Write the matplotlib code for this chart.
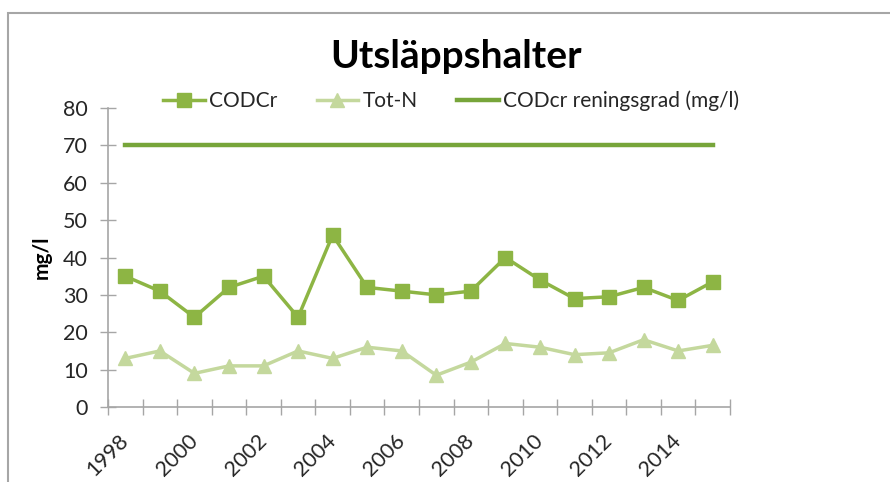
import matplotlib
matplotlib.use("Agg")
import matplotlib.pyplot as plt
from matplotlib.patches import Rectangle
from matplotlib.ticker import FixedLocator, NullFormatter, FixedFormatter
import numpy as np

years = ["1998", "1999", "2000", "2001", "2002", "2003", "2004", "2005", "2006",
         "2007", "2008", "2009", "2010", "2011", "2012", "2013", "2014", "2015"]
codcr = [35, 31, 24, 32, 35, 24, 46, 32, 31, 30, 31, 40, 34, 29, 29.5, 32, 28.5, 33.5]
totn = [13, 15, 9, 11, 11, 15, 13, 16, 15, 8.5, 12, 17, 16, 14, 14.5, 18, 15, 16.5]
reningsgrad = [70] * 18

title = "Utsläppshalter"
ylabel = "mg/l"
series_names = ["CODCr", "Tot-N", "CODcr reningsgrad (mg/l)"]

plt.rcParams['font.family'] = ['Lato', 'DejaVu Sans']

fig = plt.figure(figsize=(8.9, 4.82), dpi=100)
W, H = 890, 482
ax = fig.add_axes([108 / W, 1 - 407 / H, (730 - 108) / W, (407 - 108) / H])

# outer chart border
fig.patches.append(Rectangle((8 / W, -0.1), 1.2, 1 - 13 / H + 0.1, transform=fig.transFigure,
                             fill=False, edgecolor="#a6a6a6", linewidth=1.5))

x = np.arange(len(years))
c1 = "#8db544"
c2 = "#c4d89d"
c3 = "#77a53a"
l1, = ax.plot(x, codcr, color=c1, lw=2.5, marker="s", ms=10, mfc=c1, mec=c1)
l2, = ax.plot(x, totn, color=c2, lw=2.5, marker="^", ms=10, mfc=c2, mec=c2)
l3, = ax.plot(x, reningsgrad, color=c3, lw=3.2)

ax.set_xlim(-0.5, len(years) - 0.5)
ax.set_ylim(0, 80)
ax.set_yticks(np.arange(0, 81, 10))

ax.xaxis.set_major_locator(FixedLocator(np.arange(-0.5, len(years), 1.0)))
ax.xaxis.set_major_formatter(NullFormatter())
lab_pos = x[::2]
ax.xaxis.set_minor_locator(FixedLocator(lab_pos))
ax.xaxis.set_minor_formatter(FixedFormatter([years[i] for i in lab_pos]))
ax.tick_params(axis="x", which="major", direction="inout", length=11, width=1, color="#a6a6a6")
ax.tick_params(axis="x", which="minor", length=0, pad=22, labelsize=15.5, labelcolor="#262626")
for t in ax.xaxis.get_minorticklabels():
    t.set_rotation(45)
    t.set_ha("right")
    t.set_va("center")
    t.set_rotation_mode("anchor")

ax.tick_params(axis="y", direction="inout", length=11, width=1, color="#a6a6a6", pad=9,
               labelsize=15.5, labelcolor="#262626")

for s in ["top", "right"]:
    ax.spines[s].set_visible(False)
for s in ["left", "bottom"]:
    ax.spines[s].set_color("#a6a6a6")
    ax.spines[s].set_linewidth(1.2)

fig.text(42 / W, 1 - 257 / H, ylabel, rotation=90, ha="center", va="center",
         fontsize=15, fontweight="bold")
fig.text(456 / W, 1 - 57 / H, title, ha="center", va="center", fontsize=28, fontweight="bold")

fig.legend([l1, l2, l3], series_names, loc="center", bbox_to_anchor=(451 / W, 1 - 101 / H),
           ncol=3, frameon=False, fontsize=15, handlelength=2.0, columnspacing=1.9,
           handletextpad=0.2, labelcolor="#262626")

fig.savefig("out.png", dpi=100)
